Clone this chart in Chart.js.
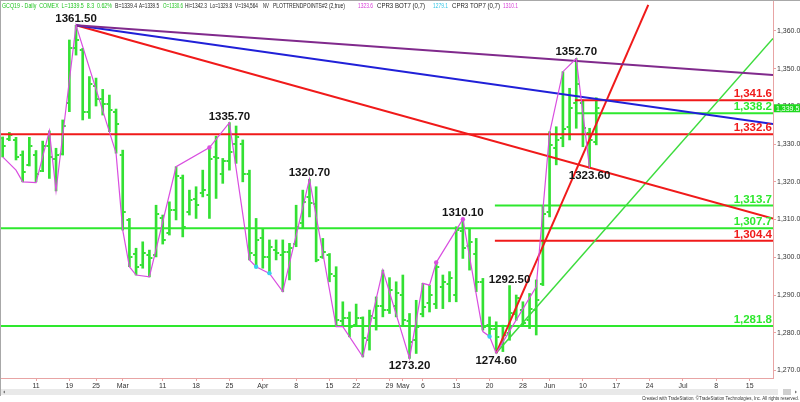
<!DOCTYPE html>
<html><head><meta charset="utf-8">
<script src="https://cdn.jsdelivr.net/npm/chart.js@4/dist/chart.umd.min.js"></script>
<style>html,body{margin:0;padding:0;background:#fff;overflow:hidden}#wrap{width:800px;height:402px;position:relative}</style>
</head><body><div id="wrap"><canvas id="c" width="800" height="402"></canvas></div>
<script>
// ---- data (trading-day index 0 = Feb 4 2019) ----
const open  = [1331.5,1331.3,1331.0,1327.0,1324.5,1327.0,1323.0,1329.5,1326.0,1327.5,
               1341.0,1355.5,1355.0,1338.5,1345.5,1342.0,1340.5,1338.5,1327.0,1310.0,
               1301.0,1298.0,1300.5,1300.5,1310.5,1306.5,1312.5,1321.0,1312.0,1315.5,
               1317.0,1316.5,1326.5,1322.0,1325.5,1330.0,1330.0,1322.0,1300.5,1305.0,
               1300.0,1302.0,1300.5,1301.5,1303.5,1309.0,1316.0,1314.0,1300.0,1300.5,
               1295.0,1283.0,1284.0,1282.0,1284.0,1278.0,1284.0,1287.0,1286.0,1287.0,
               1290.0,1283.0,1278.0,1285.0,1288.0,1287.5,1292.0,1293.0,1290.0,1307.0,
               1303.0,1301.0,1293.5,1282.0,1281.0,1277.0,1280.0,1285.0,1286.0,1283.5,
               1286.0,1293.0,1312.0,1329.0,1331.5,1334.5,1341.0,1341.0,1333.0,1330.6];
const high  = [1331.9,1333.1,1331.8,1328.2,1331.8,1328.3,1330.8,1333.5,1328.9,1336.4,
               1357.6,1361.5,1355.4,1347.9,1347.5,1344.5,1343.0,1339.3,1328.4,1310.3,
               1302.4,1304.1,1301.9,1313.8,1311.2,1314.7,1324.0,1321.8,1317.8,1318.7,
               1323.1,1329.3,1332.1,1326.2,1335.7,1334.8,1331.1,1323.1,1310.3,1307.4,
               1304.6,1304.6,1304.6,1303.7,1313.8,1317.8,1320.7,1318.7,1305.0,1301.0,
               1297.5,1288.2,1285.5,1287.6,1284.2,1286.0,1289.5,1296.6,1294.6,1293.5,
               1295.3,1285.1,1288.6,1293.1,1292.6,1298.8,1295.3,1296.2,1308.1,1310.1,
               1307.7,1305.0,1294.4,1284.2,1282.9,1282.0,1292.5,1290.0,1288.2,1290.4,
               1294.0,1313.5,1333.3,1334.6,1349.2,1344.8,1352.7,1341.7,1334.2,1342.3];
const low   = [1326.6,1330.9,1325.8,1320.0,1324.2,1320.0,1322.7,1320.9,1317.6,1327.1,
               1338.6,1353.6,1336.4,1336.8,1340.1,1337.7,1333.3,1327.6,1307.2,1297.5,
               1295.3,1297.1,1294.8,1300.1,1303.5,1305.9,1309.9,1305.4,1311.2,1310.3,
               1316.0,1310.3,1315.6,1319.6,1323.1,1324.9,1320.0,1299.3,1297.5,1297.1,
               1295.7,1299.3,1290.9,1294.0,1302.8,1307.6,1310.7,1298.8,1299.7,1293.5,
               1281.6,1281.6,1278.9,1281.6,1273.6,1275.4,1280.7,1284.2,1285.1,1284.2,
               1281.6,1273.2,1274.5,1284.2,1285.5,1286.4,1286.4,1288.2,1288.2,1299.7,
               1296.6,1290.9,1280.7,1278.9,1274.6,1275.0,1278.0,1283.3,1281.6,1281.1,
               1279.4,1292.5,1310.7,1324.5,1329.3,1331.1,1334.2,1329.3,1323.6,1329.8];
const close = [1329.5,1332.5,1326.7,1322.5,1329.6,1322.0,1329.5,1326.5,1327.0,1334.8,
               1355.5,1357.5,1338.5,1346.0,1342.0,1340.5,1339.0,1335.3,1311.9,1300.1,
               1297.5,1301.1,1299.9,1311.5,1304.6,1312.5,1321.5,1308.0,1315.2,1313.8,
               1317.8,1326.0,1326.3,1325.5,1328.0,1332.0,1322.0,1301.1,1304.6,1300.1,
               1302.8,1301.2,1301.5,1302.5,1308.1,1314.7,1314.3,1299.3,1301.5,1295.7,
               1283.3,1284.0,1281.6,1283.9,1278.5,1284.5,1287.0,1286.0,1291.3,1290.5,
               1283.3,1277.6,1281.6,1286.9,1290.0,1297.5,1293.5,1294.5,1307.2,1302.4,
               1304.1,1293.5,1281.6,1281.0,1278.9,1279.5,1285.2,1289.2,1282.5,1286.4,
               1288.6,1311.6,1329.8,1331.0,1334.0,1339.5,1346.0,1334.3,1331.2,1339.5];

// swing (trend point) line
const swingIdx = [0,2,3,5,7,8,11,17,18,19,20,22,26,31,34,37,38,40,42,46,50,51,54,57,61,63,64,65,69,72,73,74,80,82,84,86,88];
const swingVal = [1326.6,1323.1,1320.0,1319.8,1333.5,1317.6,1361.5,1327.6,1307.2,1297.5,1295.3,1294.8,1324.0,1329.1,1335.7,1299.3,1297.5,1295.7,1290.9,1320.7,1281.6,1281.6,1273.6,1296.6,1273.2,1293.1,1292.6,1298.6,1310.1,1280.3,1279.0,1274.6,1292.2,1332.9,1349.2,1352.7,1323.6];

// CPR markers
const topDotIdx = [31,65,69];
const topDotVal = [1329.1,1298.6,1310.1];
const botDotIdx = [38,40,73];
const botDotVal = [1297.5,1295.8,1279.0];

// labelled pivots
const pivotIdx  = [11,34,46,69,76,86,61,74,88];
const pivotVal  = [1361.5,1335.7,1320.7,1310.1,1292.5,1352.7,1273.2,1274.6,1323.6];
const pivotSide = ['H','H','H','H','H','H','L','L','L'];

// horizontal levels
const levelVal   = [1341.6,1338.2,1332.6,1313.7,1307.7,1304.4,1281.8];
const levelStart = [85.8,85.8,-0.4,73.8,-0.4,73.8,-0.4];
const levelKind  = ['R','G','R','G','G','R','G'];

// trend lines [startIdx,startVal] -> [endIdx,endVal]
const trendFrom = [[11,1361.5],[11,1361.5],[11,1361.5],[74,1274.6],[74,1274.6]];
const trendTo   = [[115.5,1348.3],[115.5,1335.3],[115.5,1310.3],[96.8,1366.9],[115.5,1358.0]];
const trendKind = ['purple','blue','red','red','green'];

// axis ticks
const xTickIdx  = [5,10,14,18,24,29,34,39,44,49,53,58,60,63,68,73,78,82,87,92,97,102,107,112];
const xTickText = ['11','19','25','Mar','11','18','25','Apr','8','15','22','29','May','6','13','20','28','Jun','10','17','24','Jul','8','15'];
const yTicks = [1270,1280,1290,1300,1310,1320,1330,1340,1350,1360];

const lastPrice = 1339.5;
const header = [
  ['GCQ19 - Daily  COMEX  L=1339.5  8.3  0.62%','g'],['B=1339.4','k'],['A=1339.5','k'],['O=1330.6','g'],
  ['Hi=1342.3','k'],['Lo=1329.8','k'],['V=194,564','k'],['NV','k'],['PLOTTRENDPOINTS#2 (2,true)','k'],
  ['1323.6','m'],['CPR3 BOT7 (0,7)','k'],['1279.1','c'],['CPR3 TOP7 (0,7)','k'],['1310.1','m']];

// ---- styles ----
const X_MIN = -0.4, X_MAX = 115.5, Y_MIN = 1268, Y_MAX = 1368.2;
const GREEN = '#33e033', LGREEN = '#2ee82e', RED = '#f01a1a', BLUE = '#2020d8', PURPLE = '#802a8c',
      MAG = '#d94ee0', CYAN = '#38cfee', AXIS = '#e8a4a4';
const headerX = [2,115,139,163,185,210,235,263,273,358,377,433,452,503];
const headerW = [110,22,20,20,22,22,23,6,72,15,48,15,48,15];
const headerCol = {g:'#22c522',k:'#222',m:'#d63ad6',c:'#2fc4e6'};
const trendCol = {purple:PURPLE, blue:BLUE, red:RED, green:'#3ddc3d'};
const trendW = {purple:2, blue:2, red:2, green:1.5};

const fmt = v => v.toLocaleString('en-US',{minimumFractionDigits:1,maximumFractionDigits:1});

function tickImg(side){
  const c = document.createElement('canvas'); c.width = 8; c.height = 2;
  const g = c.getContext('2d'); g.fillStyle = GREEN;
  g.fillRect(side === 'open' ? 1 : 5, 0, 2, 2);
  return c;
}

const datasets = [];
datasets.push({type:'bar', data: high.map((h,i)=>({x:i, y:[low[i], h]})), backgroundColor: GREEN,
  barThickness: 2, order: 20});
datasets.push({type:'line', data: open.map((o,i)=>({x:i,y:o})), showLine:false, pointStyle: tickImg('open'), pointRadius:3, order:19});
datasets.push({type:'line', data: close.map((c,i)=>({x:i,y:c})), showLine:false, pointStyle: tickImg('close'), pointRadius:3, order:19});
levelVal.forEach((v,k)=>{
  datasets.push({type:'line', data:[{x:levelStart[k],y:v},{x:X_MAX,y:v}], borderColor: levelKind[k]==='R'?RED:LGREEN,
    borderWidth:2, pointRadius:0, order:10});
});
trendFrom.forEach((p,k)=>{
  datasets.push({type:'line', data:[{x:p[0],y:p[1]},{x:trendTo[k][0],y:trendTo[k][1]}], borderColor: trendCol[trendKind[k]],
    borderWidth: trendW[trendKind[k]], pointRadius:0, order:9});
});
datasets.push({type:'line', data: swingIdx.map((x,k)=>({x, y: swingVal[k]})), borderColor: MAG, borderWidth:1.2,
  pointRadius:0, tension:0, order:8});
datasets.push({type:'line', data: topDotIdx.map((x,k)=>({x,y:topDotVal[k]})), showLine:false, pointRadius:2.2,
  pointBackgroundColor: MAG, pointBorderWidth:0, order:1});
datasets.push({type:'line', data: botDotIdx.map((x,k)=>({x,y:botDotVal[k]})), showLine:false, pointRadius:2.2,
  pointBackgroundColor: CYAN, pointBorderWidth:0, order:1});

const deco = {
  id:'deco',
  beforeDraw(ch){
    const g = ch.ctx; g.save(); g.fillStyle = '#fff'; g.fillRect(0,0,ch.width,ch.height); g.restore();
  },
  afterDatasetsDraw(ch){
    const g = ch.ctx, xs = ch.scales.x, ys = ch.scales.y, a = ch.chartArea;
    g.save();
    g.font = 'bold 11.5px Arial, "Liberation Sans", sans-serif';
    g.fillStyle = '#151515'; g.textAlign = 'center';
    pivotIdx.forEach((ix,k)=>{
      const px = xs.getPixelForValue(ix), py = ys.getPixelForValue(pivotVal[k]);
      if (pivotSide[k] === 'H'){ g.textBaseline = 'alphabetic'; g.fillText(pivotVal[k].toFixed(2), px, py - 3); }
      else { g.textBaseline = 'top'; g.fillText(pivotVal[k].toFixed(2), px, py + 2); }
    });
    g.textAlign = 'right'; g.textBaseline = 'alphabetic';
    levelVal.forEach((v,k)=>{
      g.fillStyle = levelKind[k]==='R' ? RED : LGREEN;
      g.fillText(fmt(v), a.right - 1, ys.getPixelForValue(v) - 3);
    });
    g.restore();
  },
  afterDraw(ch){
    const g = ch.ctx, ys = ch.scales.y, a = ch.chartArea;
    g.save();
    g.strokeStyle = '#a8a8a8'; g.lineWidth = 1;
    g.beginPath(); g.moveTo(0.5,0); g.lineTo(0.5,396); g.stroke();
    g.beginPath(); g.moveTo(0,0.5); g.lineTo(800,0.5); g.stroke();
    g.font = '7px Arial, "Liberation Sans", sans-serif'; g.textBaseline = 'middle'; g.textAlign = 'left';
    header.forEach((h,k)=>{ g.fillStyle = headerCol[h[1]]; g.fillText(h[0], headerX[k], 6, headerW[k]); });
    const py = ys.getPixelForValue(lastPrice);
    g.fillStyle = '#1fd81f'; g.fillRect(a.right + 1, py - 4, 800 - a.right - 1, 8);
    g.fillStyle = '#fff'; g.font = '7px Arial, sans-serif'; g.textBaseline = 'middle';
    g.fillText(fmt(lastPrice), a.right + 3, py + 0.5);
    g.fillStyle = '#e9e9e9'; g.fillRect(1, 389, 777, 6);
    g.fillStyle = '#777'; g.beginPath(); g.moveTo(3,392); g.lineTo(5,390.5); g.lineTo(5,393.5); g.fill();
    g.fillStyle = '#cfcfcf'; g.fillRect(783, 389, 8, 6);
    g.fillStyle = '#777'; g.beginPath(); g.moveTo(797,392); g.lineTo(795,390.5); g.lineTo(795,393.5); g.fill();
    g.fillStyle = '#333'; g.font = '5.5px Arial, sans-serif'; g.textAlign = 'right'; g.textBaseline = 'middle';
    g.fillText('Created with TradeStation. \u00A9TradeStation Technologies, Inc. All rights reserved.', 799, 398.5, 157);
    g.restore();
  }
};

new Chart(document.getElementById('c'), {
  type:'bar',
  data:{ datasets },
  options:{
    responsive:false, animation:false, devicePixelRatio:1, events:[],
    layout:{ padding:0, autoPadding:false },
    plugins:{ legend:{display:false}, tooltip:{enabled:false} },
    scales:{
      x:{ type:'linear', min:X_MIN, max:X_MAX, offset:false,
        afterFit(s){ s.height = 24; s.paddingLeft = 0; s.paddingRight = 0; },
        afterBuildTicks(s){ s.ticks = xTickIdx.map(v=>({value:v})); },
        ticks:{ autoSkip:false, maxRotation:0, minRotation:0, padding:1, color:'#333',
          font:{ size:7, family:'Arial, "Liberation Sans", sans-serif' },
          callback:(v,i)=> xTickText[i] },
        grid:{ drawOnChartArea:false, tickLength:3, color:AXIS, offset:false },
        border:{ color:AXIS, width:1 } },
      y:{ type:'linear', position:'right', min:Y_MIN, max:Y_MAX,
        afterFit(s){ s.width = 27; s.paddingTop = 0; s.paddingBottom = 0; },
        afterBuildTicks(s){ s.ticks = yTicks.map(v=>({value:v})); },
        ticks:{ padding:1, color:'#333', font:{ size:7, family:'Arial, "Liberation Sans", sans-serif' },
          callback:v=> fmt(v) },
        grid:{ drawOnChartArea:false, tickLength:3, color:AXIS },
        border:{ color:AXIS, width:1 } }
    }
  },
  plugins:[deco]
});
</script></body></html>
